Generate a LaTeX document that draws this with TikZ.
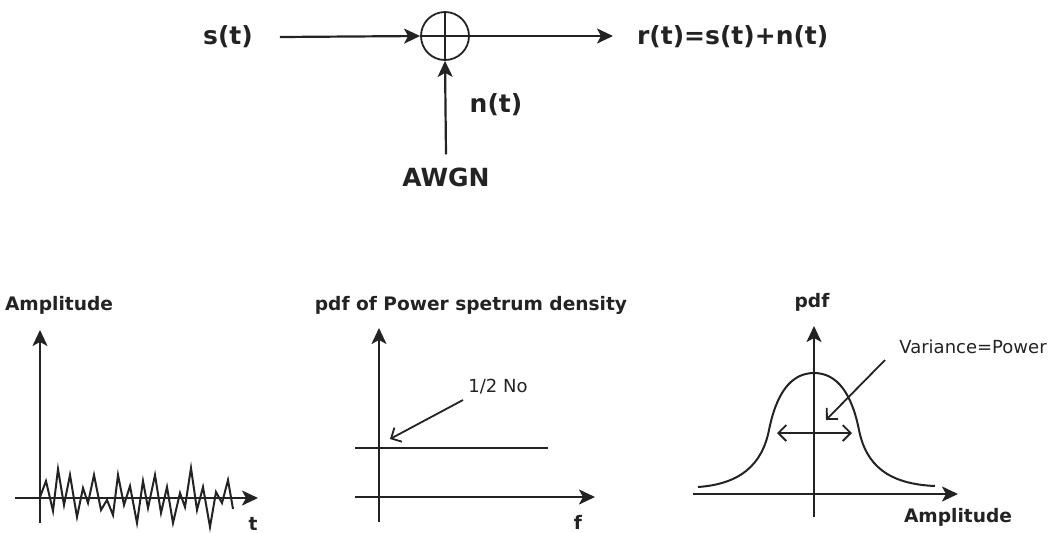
\documentclass[tikz,border=0pt]{standalone}
\usepackage{fontspec}
\setmainfont{DejaVu Sans}
\usepackage{tikz}
\usetikzlibrary{arrows.meta, positioning}
\definecolor{ink}{RGB}{35,35,35}
\tikzset{
  big/.style={font=\fontsize{12.5}{14}\selectfont\bfseries,text=ink},
  lbl/.style={font=\fontsize{9.3}{11}\selectfont\bfseries,text=ink},
  note/.style={font=\fontsize{9}{11}\selectfont,text=ink},
  arr/.style={-{Stealth[length=8pt,width=7.5pt,inset=2pt]},line width=1.1pt,draw=ink},
  axis/.style={-{Stealth[length=8pt,width=7.5pt,inset=2pt]},line width=1.1pt,draw=ink},
  barb/.style={-{Straight Barb[length=4pt,width=8pt]},line width=0.9pt,draw=ink},
  curve/.style={line width=1pt,draw=ink},
}

\begin{document}
\begin{tikzpicture}[x=0.5pt,y=-0.5pt]
  \useasboundingbox (0,0) rectangle (1060,532);
  \node[big](st) at (228,37){s(t)};
  \node[circle,draw=ink,line width=0.9pt,minimum size=24pt,inner sep=0pt](sum) at (445,36){};
  \draw[ink,line width=0.9pt](sum.north)--(sum.south) (sum.west)--(sum.east);
  \coordinate(rin) at (613,36);
  \node[big,anchor=west](rt) at (630,37){r(t)=s(t)+n(t)};
  \node[big](awgn) at (446,177){AWGN};
  \node[big](nt) at (496,105){n(t)};
  \draw[arr](st.east)++(20,0)--(sum.west);
  \draw[arr](sum.east)--(rin);
  \draw[arr](awgn.north)++(0,-6)--(sum.south);

  \node[lbl](amp1) at (59,305){Amplitude};
  \coordinate(a1b) at (40,523); \coordinate(a1t) at (40,330);
  \coordinate(a1l) at (15,498); \coordinate(a1r) at (258,498);
  \draw[axis](a1b)--(a1t);
  \draw[axis](a1l)--(a1r);
  \node[lbl](t) at (253,524){t};
  \draw[curve,line join=miter] plot coordinates {(40,497) (46,481) (53,511) (58,469) (64,505) (70,475) (77,517) (83,488) (88,503) (94,475) (101,510) (107,500) (113,515) (118,475) (124,505) (130,486) (137,523) (143,481) (148,508) (155,475) (161,513) (167,487) (173,523) (180,493) (185,507) (191,468) (197,510) (203,487) (210,527) (216,492) (222,503) (228,480) (233,509)};

  \node[lbl](psd) at (471,305){pdf of Power spetrum density};
  \coordinate(a2b) at (379,522); \coordinate(a2t) at (379,328);
  \coordinate(a2l) at (355,497); \coordinate(a2r) at (595,497);
  \draw[axis](a2b)--(a2t);
  \draw[axis](a2l)--(a2r);
  \draw[curve](355,448)--(548,448);
  \node[note](no) at (498,387){1/2 No};
  \coordinate(noa) at (463,400); \coordinate(nob) at (390,439);
  \draw[barb](noa)--(nob);
  \node[lbl](f) at (578,522){f};

  \node[lbl](pdf) at (812,302){pdf};
  \coordinate(a3b) at (814,517); \coordinate(a3t) at (814,326);
  \coordinate(a3l) at (693,494); \coordinate(a3r) at (958,494);
  \draw[axis](a3b)--(a3t);
  \draw[axis](a3l)--(a3r);
  \draw[curve](698,487) .. controls (740,484) and (762,465) .. (769,430)
    .. controls (776,395) and (790,373) .. (814,373)
    .. controls (838,373) and (852,395) .. (859,430)
    .. controls (866,465) and (888,484) .. (935,486);
  \coordinate(vl) at (777,433); \coordinate(vr) at (852,433);
  \draw[barb,{Straight Barb[length=4pt,width=8pt]}-{Straight Barb[length=4pt,width=8pt]}](vl)--(vr);
  \node[note](var) at (973,347){Variance=Power};
  \coordinate(va) at (885,360); \coordinate(vb) at (826,420);
  \draw[barb](va)--(vb);
  \node[lbl](amp3) at (958,517){Amplitude};
\end{tikzpicture}
\end{document}
